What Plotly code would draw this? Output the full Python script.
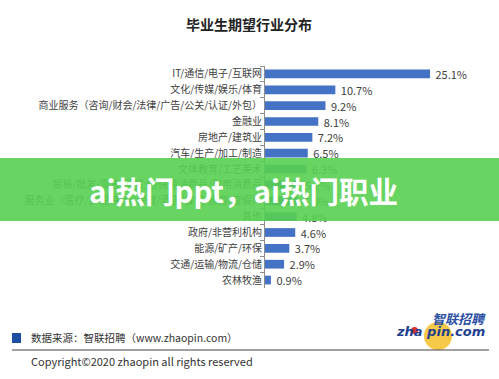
import plotly.graph_objects as go

title = "毕业生期望行业分布"
categories = [
    "IT/通信/电子/互联网",
    "文化/传媒/娱乐/体育",
    "商业服务（咨询/财会/法律/广告/公关/认证/外包）",
    "金融业",
    "房地产/建筑业",
    "汽车/生产/加工/制造",
    "文体教育/工艺美术",
    "贸易/批发/零售/租赁业/快速消费品/耐用消费品",
    "服务业（医疗/护理/美容/保健/酒店/餐饮/旅游/度假）",
    "其他",
    "政府/非营利机构",
    "能源/矿产/环保",
    "交通/运输/物流/仓储",
    "农林牧渔",
]
values = [25.1, 10.7, 9.2, 8.1, 7.2, 6.5, 6.3, 5.2, 5.0, 4.8, 4.6, 3.7, 2.9, 0.9]
value_labels = [f" {v:.1f}%" for v in values]

source_text = "数据来源：智联招聘（www.zhaopin.com）"
copyright_text = "Copyright©2020 zhaopin all rights reserved"
overlay_text = "ai热门ppt，ai热门职业"

FONT = "Noto Sans CJK SC"
BLUE = "#4472C4"

W, H = 499, 379
L, R, T, B = 265, 19, 66, 91
pw, ph = W - L - R, H - T - B


def px(x):
    return (x - L) / pw


def py(y):
    return 1 - (y - T) / ph


fig = go.Figure()
fig.add_trace(go.Bar(
    x=values, y=categories, orientation="h",
    marker=dict(color=BLUE, line=dict(width=0)),
    text=value_labels, textposition="outside", cliponaxis=False,
    constraintext="none",
    textfont=dict(family=FONT, size=11, color="#404040"),
    width=0.55,
))

fig.update_layout(
    width=W, height=H,
    margin=dict(l=L, r=R, t=T, b=B, autoexpand=False),
    paper_bgcolor="white", plot_bgcolor="white",
    showlegend=False,
    font=dict(family=FONT, color="#404040"),
    xaxis=dict(range=[0, 32.7], visible=False, fixedrange=True, automargin=False),
    yaxis=dict(
        autorange="reversed", showline=True, linecolor="#8c8c8c", linewidth=1,
        ticks="outside", ticklen=4, tickcolor="#8c8c8c", tickson="boundaries",
        tickfont=dict(family=FONT, size=10, color="#404040"),
        showgrid=False, automargin=False, fixedrange=True,
    ),
)


def A(text, x, y, size, color, family=FONT, xanchor="center"):
    return dict(text=text, x=px(x), y=py(y), xref="paper", yref="paper",
                xanchor=xanchor, yanchor="middle", showarrow=False,
                font=dict(family=family, size=size, color=color))


annotations = [
    A("<b>" + title + "</b>", 249, 24, 14, "#222222"),
    A(source_text, 29, 337, 10.5, "#333333", xanchor="left"),
    A(copyright_text, 29, 361, 11, "#333333", xanchor="left"),
    A("<i><b>智联招聘</b></i>", 459, 318, 13, "#2b4fa3"),
    A("<i><b>zha pin.com</b></i>", 440, 331, 13, "#1f3f8f", family="DejaVu Sans"),
    A("<b>" + overlay_text + "</b>", 243, 190, 29.5, "white"),
]

shapes = [
    dict(type="circle", xref="paper", yref="paper", layer="below",
         x0=px(424), x1=px(452), y0=py(350), y1=py(322),
         fillcolor="#f7c948", line=dict(width=0)),
    dict(type="rect", xref="paper", yref="paper",
         x0=px(12), x1=px(21), y0=py(343), y1=py(333),
         fillcolor="#1d4fa0", line=dict(width=0)),
    dict(type="line", xref="paper", yref="paper",
         x0=px(12), x1=px(489), y0=py(350), y1=py(350),
         line=dict(color="#444444", width=1)),
    dict(type="rect", xref="paper", yref="paper", layer="above",
         x0=px(0), x1=px(499), y0=py(221), y1=py(158),
         fillcolor="rgba(88,208,82,0.9)", line=dict(width=0)),
    dict(type="circle", xref="paper", yref="paper",
         x0=px(411), x1=px(418), y0=py(334), y1=py(327),
         fillcolor="#d9302a", line=dict(width=0)),
]

fig.update_layout(annotations=annotations, shapes=shapes)
fig.write_html("out.html", config={"displayModeBar": False},
               post_script="document.body.style.margin='0';")
